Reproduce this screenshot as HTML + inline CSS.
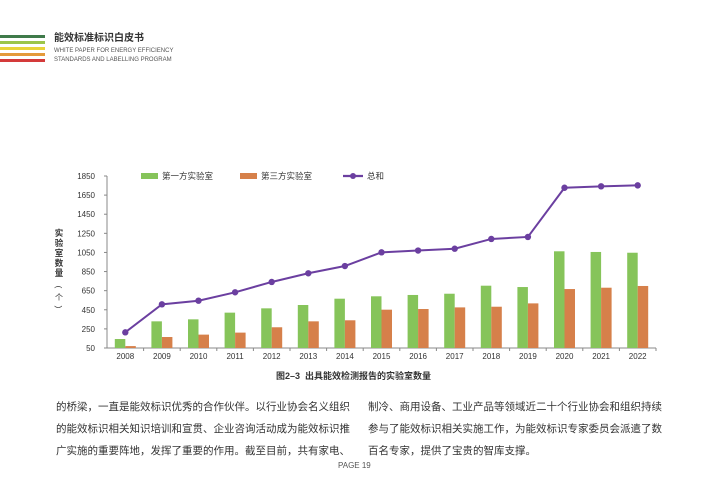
<!DOCTYPE html>
<html><head><meta charset="utf-8"><style>
body{margin:0;width:710px;height:500px;background:#fff;font-family:"Liberation Sans","Noto Sans CJK SC",sans-serif;position:relative;overflow:hidden}
.t{position:absolute;white-space:nowrap;line-height:1}
.stripe{position:absolute;left:0;width:45px;height:3px}
.body{font-size:10.5px;color:#333;line-height:22px}
</style></head><body>
<div class="stripe" style="top:35px;background:#3f7a4a"></div>
<div class="stripe" style="top:41px;background:#9cc54a"></div>
<div class="stripe" style="top:47px;background:#e8d43a"></div>
<div class="stripe" style="top:53px;background:#e49a3a"></div>
<div class="stripe" style="top:59px;background:#d43a3a"></div>
<div class="t" style="left:54px;top:34px;font-size:10px;font-weight:bold;color:#333">能效标准标识白皮书</div>
<div class="t" style="left:54px;top:48px;font-size:6px;color:#555">WHITE PAPER FOR ENERGY EFFICIENCY</div>
<div class="t" style="left:54px;top:57px;font-size:6px;color:#555">STANDARDS AND LABELLING PROGRAM</div>

<svg id="chart" width="710" height="500" style="position:absolute;left:0;top:0" font-family="Liberation Sans,Noto Sans CJK SC,sans-serif"></svg>

<div class="t" style="left:276px;top:372px;font-size:9px;font-weight:bold;color:#333">图2–3&nbsp; 出具能效检测报告的实验室数量</div>
<div class="t body" style="left:56px;top:396px">的桥梁，一直是能效标识优秀的合作伙伴。以行业协会名义组织<br>的能效标识相关知识培训和宣贯、企业咨询活动成为能效标识推<br>广实施的重要阵地，发挥了重要的作用。截至目前，共有家电、</div>
<div class="t body" style="left:368px;top:396px">制冷、商用设备、工业产品等领域近二十个行业协会和组织持续<br>参与了能效标识相关实施工作，为能效标识专家委员会派遣了数<br>百名专家，提供了宝贵的智库支撑。</div>
<div class="t" style="left:338px;top:462px;font-size:8px;color:#555">PAGE 19</div>

<script>
const years=["2008","2009","2010","2011","2012","2013","2014","2015","2016","2017","2018","2019","2020","2021","2022"];
const firstParty=[144,329,350,420,465,500,566,591,605,618,702,688,1062,1055,1047];
const thirdParty=[70,165,190,211,267,329,340,451,458,475,482,517,667,681,699];
const total=[214,507,545,633,741,832,908,1051,1070,1089,1191,1212,1727,1742,1752];
const yTicks=[50,250,450,650,850,1050,1250,1450,1650,1850];
const NS="http://www.w3.org/2000/svg";
const svg=document.getElementById('chart');
const x0=107,x1=656,yTop=176,yBot=348,vMin=50,vMax=1850;
const band=(x1-x0)/years.length;
const xc=i=>x0+band*(i+0.5);
const y=v=>yBot-(v-vMin)/(vMax-vMin)*(yBot-yTop);
function mk(tag,attrs){const e=document.createElementNS(NS,tag);for(const k in attrs)e.setAttribute(k,attrs[k]);svg.appendChild(e);return e;}
let ax=mk('line',{x1:x0,y1:yTop,x2:x0,y2:yBot,stroke:'#888','stroke-width':1});


let bx=mk('line',{x1:x0,y1:yBot,x2:x1,y2:yBot,stroke:'#888','stroke-width':1});


yTicks.forEach(v=>{
 let tk=mk('line',{x1:x0-3,y1:y(v),x2:x0,y2:y(v),stroke:'#888'});
 
 
 let t=mk('text',{x:x0-12,y:y(v)+3,'text-anchor':'end','font-size':8,fill:'#333'});t.textContent=v;
 
 
});
years.forEach((yr,i)=>{
 let tk=mk('line',{x1:x0+band*(i+1),y1:yBot,x2:x0+band*(i+1),y2:yBot+3,stroke:'#888'});
 
 
 let t=mk('text',{x:xc(i),y:yBot+11,'text-anchor':'middle','font-size':8,fill:'#333'});t.textContent=yr;
 
 
 let g=mk('rect',{x:xc(i)-10.5,y:y(firstParty[i]),width:10.5,height:yBot-y(firstParty[i]),fill:'#86c45a'});
 
 
 let o=mk('rect',{x:xc(i),y:y(thirdParty[i]),width:10.5,height:yBot-y(thirdParty[i]),fill:'#d6804a'});
 
 
});
let pl=mk('polyline',{points:total.map((v,i)=>xc(i)+','+y(v)).join(' '),fill:'none',stroke:'#6b3fa0','stroke-width':2});


total.forEach((v,i)=>{
 let c=mk('circle',{cx:xc(i),cy:y(v),r:3.2,fill:'#6b3fa0'});
 
 
});
const yt="实验室数量";
for(let k=0;k<yt.length;k++){let t=mk('text',{x:59,y:236+k*10,'text-anchor':'middle','font-size':8.5,fill:'#333','font-weight':'bold'});t.textContent=yt[k];
 
 }
["(","个",")"].forEach((ch,k)=>{let t=mk('text',{x:59,y:290+k*10,'text-anchor':'middle','font-size':8,fill:'#333',transform:k!==1?'rotate(90 59 '+(287+k*10)+')':''});t.textContent=ch;
 
 });
let l1=mk('rect',{x:141,y:173,width:17,height:6,fill:'#86c45a'});


let lt1=mk('text',{x:162,y:179,'font-size':8.5,fill:'#333'});lt1.textContent='第一方实验室';


let l2=mk('rect',{x:240,y:173,width:17,height:6,fill:'#d6804a'});


let lt2=mk('text',{x:261,y:179,'font-size':8.5,fill:'#333'});lt2.textContent='第三方实验室';


let l3=mk('line',{x1:343,y1:176,x2:363,y2:176,stroke:'#6b3fa0','stroke-width':2.2});


let l3c=mk('circle',{cx:353,cy:176,r:3,fill:'#6b3fa0'});


let lt3=mk('text',{x:367,y:179,'font-size':8.5,fill:'#333'});lt3.textContent='总和';


</script>
</body></html>
